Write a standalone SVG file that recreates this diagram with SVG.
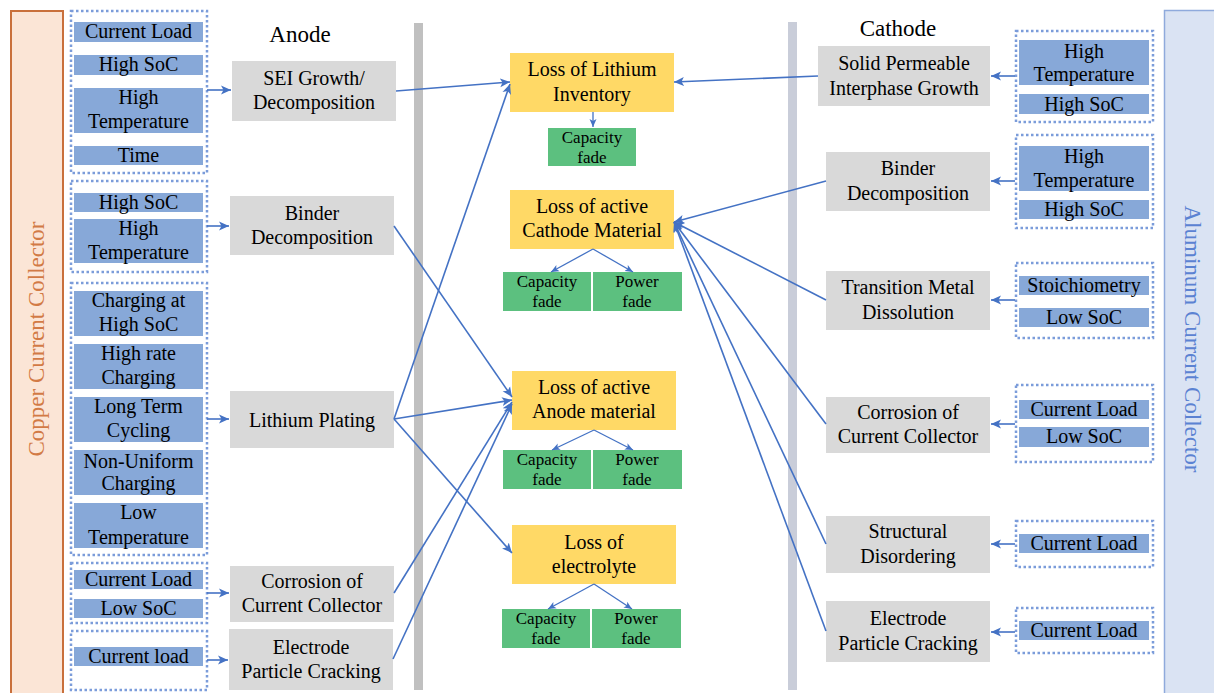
<svg xmlns="http://www.w3.org/2000/svg" width="1214" height="693" viewBox="0 0 1214 693">
<style>
text{font-family:'Liberation Serif','DejaVu Serif',serif;fill:#000;text-anchor:middle}
.b{fill:#87A8D8}
.g{fill:#D9D9D9}
.y{fill:#FFD966}
.gr{fill:#5CC07F}
.dot{fill:none;stroke:#7B9CDA;stroke-width:2.5;stroke-dasharray:2.5 2.5}
.t20{font-size:20px}
.t17{font-size:17px}
.lbl{font-size:23px}
.c{stroke:#4472C4;stroke-width:1.6;fill:none;marker-end:url(#ah)}
.cs{stroke:#4472C4;stroke-width:1.3;fill:none;marker-end:url(#as)}
</style>
<defs>
<marker id="ah" markerUnits="userSpaceOnUse" markerWidth="12" markerHeight="10" refX="10" refY="5" orient="auto" viewBox="0 0 12 10">
<path d="M0,0.5 L10,5 L0,9.5 L2.5,5 z" fill="#4472C4"/>
</marker>
<marker id="as" markerUnits="userSpaceOnUse" markerWidth="10" markerHeight="8" refX="8" refY="4" orient="auto" viewBox="0 0 10 8">
<path d="M0,0.5 L8,4 L0,7.5 L2,4 z" fill="#4472C4"/>
</marker>
</defs>
<rect width="1214" height="693" fill="#fff"/>
<g font-family="Liberation Serif, serif">

<g id="copper-collector">
<rect x="11" y="11" width="52" height="700" fill="#FBE5D6" stroke="#C9703B" stroke-width="2"/>
<text class="lbl" transform="translate(44,339) rotate(-90)" style="fill:#D27A45">Copper Current Collector</text>
</g>
<g id="aluminum-collector">
<rect x="1164.5" y="10.5" width="60" height="700" fill="#DAE3F3" stroke="#8FAADC" stroke-width="1.5"/>
<text class="lbl" transform="translate(1185,339) rotate(90)" style="fill:#5B82D2">Aluminum Current Collector</text>
</g>

<g id="bars">
<rect x="414" y="23" width="9" height="667" fill="#C0C0C0"/>
<rect x="788" y="22" width="9" height="668" fill="#C9CDD9"/>
</g>

<g id="labels">
<text class="lbl" x="300" y="42">Anode</text>
<text class="lbl" x="898" y="36">Cathode</text>
</g>

<g id="anode-sei-factors">
<rect class="dot" x="71" y="11" width="136" height="162"/>
<rect class="b" x="74" y="22" width="129" height="20"/><text class="t20" x="138.5" y="38">Current Load</text>
<rect class="b" x="74" y="55" width="129" height="20"/><text class="t20" x="138.5" y="71">High SoC</text>
<rect class="b" x="74" y="88" width="129" height="45"/><text class="t20" x="138.5" y="104">High</text><text class="t20" x="138.5" y="128">Temperature</text>
<rect class="b" x="74" y="146" width="129" height="19"/><text class="t20" x="138.5" y="162">Time</text>
</g>
<g id="anode-binder-factors">
<rect class="dot" x="71" y="181" width="136" height="91"/>
<rect class="b" x="74" y="193" width="129" height="19"/><text class="t20" x="138.5" y="209">High SoC</text>
<rect class="b" x="74" y="219" width="129" height="44"/><text class="t20" x="138.5" y="235">High</text><text class="t20" x="138.5" y="259">Temperature</text>
</g>
<g id="anode-plating-factors">
<rect class="dot" x="71" y="283" width="136" height="272"/>
<rect class="b" x="74" y="291" width="129" height="45"/><text class="t20" x="138.5" y="307">Charging at</text><text class="t20" x="138.5" y="331">High SoC</text>
<rect class="b" x="74" y="344" width="129" height="45"/><text class="t20" x="138.5" y="360">High rate</text><text class="t20" x="138.5" y="384">Charging</text>
<rect class="b" x="74" y="397" width="129" height="45"/><text class="t20" x="138.5" y="413">Long Term</text><text class="t20" x="138.5" y="437">Cycling</text>
<rect class="b" x="74" y="450" width="129" height="45"/><text class="t20" x="138.5" y="468">Non-Uniform</text><text class="t20" x="138.5" y="490">Charging</text>
<rect class="b" x="74" y="503" width="129" height="45"/><text class="t20" x="138.5" y="519">Low</text><text class="t20" x="138.5" y="544">Temperature</text>
</g>
<g id="anode-corrosion-factors">
<rect class="dot" x="71" y="563" width="136" height="60"/>
<rect class="b" x="74" y="570" width="129" height="19"/><text class="t20" x="138.5" y="586">Current Load</text>
<rect class="b" x="74" y="599" width="129" height="19"/><text class="t20" x="138.5" y="615">Low SoC</text>
</g>
<g id="anode-cracking-factors">
<rect class="dot" x="71" y="631" width="136" height="59"/>
<rect class="b" x="74" y="647" width="129" height="19"/><text class="t20" x="138.5" y="663">Current load</text>
</g>

<g id="sei-growth"><rect class="g" x="232" y="61" width="164" height="60"/><text class="t20" x="314" y="85">SEI Growth/</text><text class="t20" x="314" y="109">Decomposition</text></g>
<g id="anode-binder"><rect class="g" x="230" y="196" width="164" height="59"/><text class="t20" x="312" y="220">Binder</text><text class="t20" x="312" y="244">Decomposition</text></g>
<g id="lithium-plating"><rect class="g" x="230" y="391" width="164" height="57"/><text class="t20" x="312" y="427">Lithium Plating</text></g>
<g id="anode-corrosion"><rect class="g" x="230" y="566" width="164" height="56"/><text class="t20" x="312" y="588">Corrosion of</text><text class="t20" x="312" y="612">Current Collector</text></g>
<g id="anode-cracking"><rect class="g" x="229" y="629" width="164" height="61"/><text class="t20" x="311" y="654">Electrode</text><text class="t20" x="311" y="678">Particle Cracking</text></g>

<g id="lli"><rect class="y" x="510" y="53" width="164" height="59"/><text class="t20" x="592" y="76">Loss of Lithium</text><text class="t20" x="592" y="101">Inventory</text></g>
<g id="lli-cap"><rect class="gr" x="548" y="128" width="88" height="38"/><text class="t17" x="592" y="143">Capacity</text><text class="t17" x="592" y="163">fade</text></g>

<g id="lacm"><rect class="y" x="510" y="190" width="164" height="59"/><text class="t20" x="592" y="213">Loss of active</text><text class="t20" x="592" y="237">Cathode Material</text></g>
<g id="lacm-cap"><rect class="gr" x="503" y="272" width="88" height="39"/><text class="t17" x="547" y="287">Capacity</text><text class="t17" x="547" y="307">fade</text></g>
<g id="lacm-pow"><rect class="gr" x="593" y="272" width="89" height="39"/><text class="t17" x="637" y="287">Power</text><text class="t17" x="637" y="307">fade</text></g>

<g id="laam"><rect class="y" x="512" y="371" width="164" height="59"/><text class="t20" x="594" y="394">Loss of active</text><text class="t20" x="594" y="418">Anode material</text></g>
<g id="laam-cap"><rect class="gr" x="503" y="450" width="88" height="39"/><text class="t17" x="547" y="465">Capacity</text><text class="t17" x="547" y="485">fade</text></g>
<g id="laam-pow"><rect class="gr" x="593" y="450" width="89" height="39"/><text class="t17" x="637" y="465">Power</text><text class="t17" x="637" y="485">fade</text></g>

<g id="le"><rect class="y" x="512" y="525" width="164" height="59"/><text class="t20" x="594" y="549">Loss of</text><text class="t20" x="594" y="573">electrolyte</text></g>
<g id="le-cap"><rect class="gr" x="502" y="609" width="88" height="39"/><text class="t17" x="546" y="624">Capacity</text><text class="t17" x="546" y="644">fade</text></g>
<g id="le-pow"><rect class="gr" x="592" y="609" width="89" height="39"/><text class="t17" x="636" y="624">Power</text><text class="t17" x="636" y="644">fade</text></g>

<g id="spi-growth"><rect class="g" x="818" y="46" width="172" height="60"/><text class="t20" x="904" y="70">Solid Permeable</text><text class="t20" x="904" y="95">Interphase Growth</text></g>
<g id="cathode-binder"><rect class="g" x="826" y="152" width="164" height="59"/><text class="t20" x="908" y="175">Binder</text><text class="t20" x="908" y="200">Decomposition</text></g>
<g id="tm-dissolution"><rect class="g" x="826" y="271" width="164" height="59"/><text class="t20" x="908" y="294">Transition Metal</text><text class="t20" x="908" y="319">Dissolution</text></g>
<g id="cathode-corrosion"><rect class="g" x="826" y="397" width="164" height="56"/><text class="t20" x="908" y="419">Corrosion of</text><text class="t20" x="908" y="443">Current Collector</text></g>
<g id="structural-disordering"><rect class="g" x="826" y="516" width="164" height="57"/><text class="t20" x="908" y="538">Structural</text><text class="t20" x="908" y="563">Disordering</text></g>
<g id="cathode-cracking"><rect class="g" x="826" y="601" width="164" height="61"/><text class="t20" x="908" y="625">Electrode</text><text class="t20" x="908" y="650">Particle Cracking</text></g>

<g id="cathode-spi-factors">
<rect class="dot" x="1016" y="31" width="137" height="91"/>
<rect class="b" x="1019" y="40" width="130" height="45"/><text class="t20" x="1084" y="58">High</text><text class="t20" x="1084" y="81">Temperature</text>
<rect class="b" x="1019" y="94" width="130" height="20"/><text class="t20" x="1084" y="111">High SoC</text>
</g>
<g id="cathode-binder-factors">
<rect class="dot" x="1016" y="135" width="137" height="93"/>
<rect class="b" x="1019" y="146" width="130" height="45"/><text class="t20" x="1084" y="163">High</text><text class="t20" x="1084" y="187">Temperature</text>
<rect class="b" x="1019" y="200" width="130" height="19"/><text class="t20" x="1084" y="216">High SoC</text>
</g>
<g id="tm-factors">
<rect class="dot" x="1016" y="263" width="137" height="75"/>
<rect class="b" x="1019" y="276" width="130" height="19"/><text class="t20" x="1084" y="292">Stoichiometry</text>
<rect class="b" x="1019" y="308" width="130" height="19"/><text class="t20" x="1084" y="324">Low SoC</text>
</g>
<g id="cathode-corrosion-factors">
<rect class="dot" x="1016" y="385" width="137" height="77"/>
<rect class="b" x="1019" y="400" width="130" height="19"/><text class="t20" x="1084" y="416">Current Load</text>
<rect class="b" x="1019" y="427" width="130" height="20"/><text class="t20" x="1084" y="443">Low SoC</text>
</g>
<g id="sd-factors">
<rect class="dot" x="1016" y="521" width="137" height="46"/>
<rect class="b" x="1019" y="534" width="130" height="19"/><text class="t20" x="1084" y="550">Current Load</text>
</g>
<g id="cathode-cracking-factors">
<rect class="dot" x="1016" y="608" width="137" height="45"/>
<rect class="b" x="1019" y="621" width="130" height="19"/><text class="t20" x="1084" y="637">Current Load</text>
</g>
</g>

<g id="connectors">
<line class="c" x1="207" y1="90" x2="231" y2="90"/>
<line class="c" x1="207" y1="226" x2="229" y2="226"/>
<line class="c" x1="207" y1="419" x2="229" y2="419"/>
<line class="c" x1="207" y1="593" x2="229" y2="593"/>
<line class="c" x1="207" y1="660" x2="228" y2="660"/>
<line class="c" x1="1015" y1="76" x2="991" y2="76"/>
<line class="c" x1="1015" y1="181" x2="991" y2="181"/>
<line class="c" x1="1015" y1="300" x2="991" y2="300"/>
<line class="c" x1="1015" y1="424" x2="991" y2="424"/>
<line class="c" x1="1015" y1="544" x2="991" y2="544"/>
<line class="c" x1="1015" y1="632" x2="991" y2="632"/>

<line class="c" x1="396" y1="91" x2="510" y2="82"/>
<line class="c" x1="394" y1="419" x2="510" y2="84"/>
<line class="c" x1="394" y1="226" x2="512" y2="397"/>
<line class="c" x1="394" y1="419" x2="512" y2="400"/>
<line class="c" x1="394" y1="593" x2="512" y2="402"/>
<line class="c" x1="393" y1="659" x2="512" y2="404"/>
<line class="c" x1="394" y1="419" x2="512" y2="553"/>

<line class="c" x1="818" y1="76" x2="674" y2="82"/>
<line class="c" x1="826" y1="181" x2="674" y2="222"/>
<line class="c" x1="826" y1="300" x2="674" y2="222"/>
<line class="c" x1="826" y1="424" x2="674" y2="222"/>
<line class="c" x1="826" y1="544" x2="674" y2="222"/>
<line class="c" x1="826" y1="631" x2="674" y2="222"/>

<line class="cs" x1="593" y1="112" x2="593" y2="127"/>
<line class="cs" x1="593" y1="249" x2="551" y2="272"/>
<line class="cs" x1="593" y1="249" x2="633" y2="272"/>
<line class="cs" x1="594" y1="430" x2="552" y2="450"/>
<line class="cs" x1="594" y1="430" x2="633" y2="450"/>
<line class="cs" x1="594" y1="584" x2="548" y2="609"/>
<line class="cs" x1="594" y1="584" x2="632" y2="609"/>
</g>
</svg>
